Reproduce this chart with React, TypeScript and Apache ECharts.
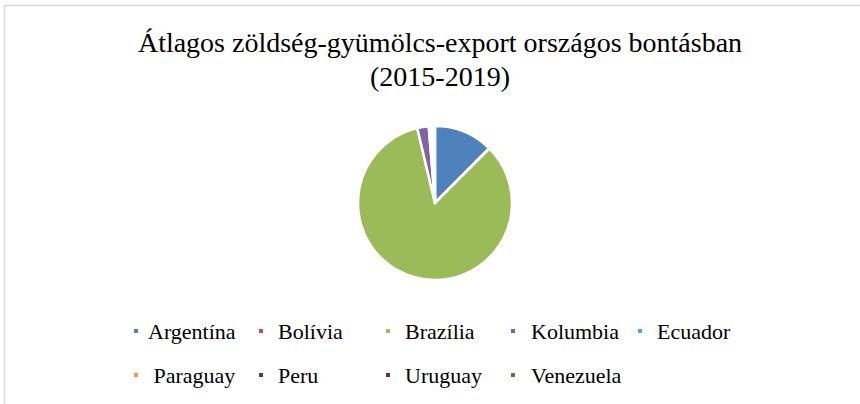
import React, { useEffect, useRef } from "react";
import * as echarts from "echarts";

const countries = ["Argentína", "Bolívia", "Brazília", "Kolumbia", "Ecuador", "Paraguay", "Peru", "Uruguay", "Venezuela"];
const shares = [12.4, 0.1, 83.7, 2.4, 0.3, 0.3, 0.4, 0.2, 0.1];
const colors = ["#4F81BD", "#C0504D", "#9BBB59", "#8064A2", "#4BACC6", "#F79646", "#2C4D75", "#772C2A", "#5F7530"];
const legendColumns = [
  ["Argentína", "Paraguay"],
  ["Bolívia", "Peru"],
  ["Brazília", "Uruguay"],
  ["Kolumbia", "Venezuela"],
  ["Ecuador"],
];
const titleText = "Átlagos zöldség-gyümölcs-export országos bontásban\n(2015-2019)";

const FONT = "Liberation Serif";
const columnLeft = [132, 257, 384, 509, 636];
const columnTextPad = [4, 9, 9, 10, 9];

export default function App() {
  const ref = useRef<HTMLDivElement>(null);
  useEffect(() => {
    if (!ref.current) return;
    const chart = echarts.init(ref.current, null, { renderer: "svg" });
    const legends = legendColumns.map((col, i) => ({
      orient: "vertical",
      padding: 0,
      left: columnLeft[i],
      top: 318,
      itemWidth: 6,
      itemHeight: 6,
      itemGap: 18,
      icon: "rect",
      selectedMode: false,
      data: col,
      formatter: (n: string) => (n === "Paraguay" ? " " + n : n),
      textStyle: {
        fontFamily: FONT,
        fontSize: 22,
        color: "#000",
        lineHeight: 26,
        padding: [0, 0, 0, columnTextPad[i]],
      },
    }));
    chart.setOption({
      animation: false,
      backgroundColor: "#fff",
      color: colors,
      title: {
        text: titleText,
        left: 435,
        top: 20,
        textAlign: "center",
        textStyle: {
          fontFamily: FONT,
          fontSize: 28,
          fontWeight: "normal",
          color: "#000",
          lineHeight: 34,
        },
      },
      legend: legends,
      graphic: [
        {
          type: "rect",
          shape: { x: 4.5, y: 5.5, width: 900, height: 450 },
          style: { fill: "none", stroke: "#d9d9d9", lineWidth: 1.5 },
          silent: true,
        },
      ],
      series: [
        {
          type: "pie",
          center: [435, 203],
          radius: 77,
          startAngle: 90,
          clockwise: true,
          label: { show: false },
          labelLine: { show: false },
          emphasis: { disabled: true },
          itemStyle: { borderColor: "#fff", borderWidth: 2.5 },
          data: countries.map((c, i) => ({ name: c, value: shares[i] })),
        },
      ],
    });
    return () => chart.dispose();
  }, []);
  return (
    <div
      ref={ref}
      style={{ position: "absolute", left: 0, top: 0, width: 860, height: 404 }}
    />
  );
}
